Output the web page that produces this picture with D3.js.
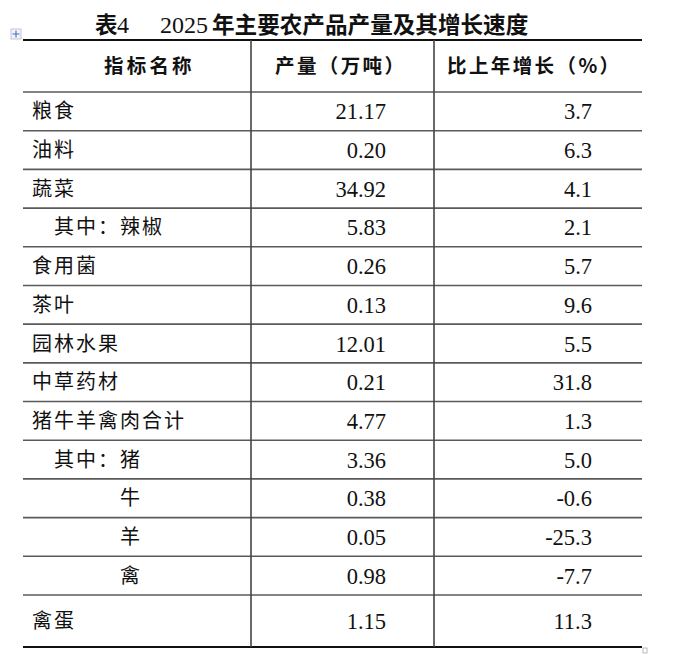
<!DOCTYPE html>
<html>
<head>
<meta charset="utf-8">
<script src="https://cdn.jsdelivr.net/npm/d3@7"></script>
<style>
  html, body { margin: 0; padding: 0; background: #fff; }
  svg { display: block; }
</style>
</head>
<body>
<svg id="chart" width="680" height="654"></svg>
<script>
// ---- data ----
const titlePrefix = "表";
const titleNumber = "4";
const titleYear = "2025";
const titleRest = "年主要农产品产量及其增长速度";
const headers = ["指标名称", "产量（万吨）", "比上年增长（%）"];
const items = ["粮食", "油料", "蔬菜", "辣椒", "食用菌", "茶叶", "园林水果", "中草药材",
               "猪牛羊禽肉合计", "猪", "牛", "羊", "禽", "禽蛋"];
const levels = [0, 0, 0, 1, 0, 0, 0, 0, 0, 1, 2, 2, 2, 0];
const output = ["21.17", "0.20", "34.92", "5.83", "0.26", "0.13", "12.01", "0.21",
                "4.77", "3.36", "0.38", "0.05", "0.98", "1.15"];
const growth = ["3.7", "6.3", "4.1", "2.1", "5.7", "9.6", "5.5", "31.8",
                "1.3", "5.0", "-0.6", "-25.3", "-7.7", "11.3"];

// ---- layout ----
const svg = d3.select("#chart");
const cjk = "'Noto Sans CJK SC', 'Noto Sans', sans-serif";
const serif = "'Liberation Serif', 'DejaVu Serif', serif";
const left = 23, right = 642;
const colX = d3.scaleOrdinal().domain([0, 1, 2, 3]).range([left, 251, 434, right]);

// row weights: header and last row taller
const weights = [1.345].concat(items.map((d, i) => i === items.length - 1 ? 1.345 : 1));
const cum = [0];
weights.forEach(w => cum.push(cum[cum.length - 1] + w));
const y = d3.scaleLinear().domain([0, cum[cum.length - 1]]).range([40, 647]);
const rowTop = i => y(cum[i + 1]);      // data row i
const rowMid = i => (y(cum[i + 1]) + y(cum[i + 2])) / 2;

// title
const title = svg.append("text").attr("y", 33).attr("fill", "#111");
title.append("tspan").attr("x", 95).attr("font-family", cjk).attr("font-weight", "bold")
  .attr("font-size", 22.5).text(titlePrefix);
title.append("tspan").attr("x", 117).attr("font-family", serif).attr("font-size", 24).text(titleNumber);
title.append("tspan").attr("x", 160).attr("font-family", serif).attr("font-size", 24).text(titleYear);
title.append("tspan").attr("x", 212).attr("font-family", cjk).attr("font-weight", "bold")
  .attr("font-size", 22.6).text(titleRest);

// table move handle icon
const h = svg.append("g").attr("transform", "translate(11,29)");
h.append("rect").attr("width", 10).attr("height", 10).attr("fill", "#f2f4fa").attr("stroke", "#b5b8c4").attr("stroke-width", 0.8);
h.append("path").attr("d", "M5 1.5V8.5M1.5 5H8.5").attr("stroke", "#3b6fd6").attr("stroke-width", 1.1);
// small end marker
svg.append("rect").attr("x", 643).attr("y", 648).attr("width", 4).attr("height", 5)
  .attr("fill", "none").attr("stroke", "#aaa").attr("stroke-width", 0.8);

// horizontal lines
const innerLines = d3.range(1, cum.length - 1).map(k => y(cum[k]));
svg.selectAll("line.h").data(innerLines).join("line")
  .attr("class", "h")
  .attr("x1", left).attr("x2", right)
  .attr("y1", d => d).attr("y2", d => d)
  .attr("stroke", "#5a5a5a").attr("stroke-width", 1.6);
svg.selectAll("line.edge").data([y(0), y(cum[cum.length - 1])]).join("line")
  .attr("class", "edge")
  .attr("x1", left).attr("x2", right)
  .attr("y1", d => d).attr("y2", d => d)
  .attr("stroke", "#111").attr("stroke-width", 2.2);

// vertical dividers
svg.selectAll("line.v").data([1, 2]).join("line")
  .attr("class", "v")
  .attr("x1", d => colX(d)).attr("x2", d => colX(d))
  .attr("y1", y(0)).attr("y2", y(cum[cum.length - 1]))
  .attr("stroke", "#444").attr("stroke-width", 1.6);

// headers
const headerX = [104, 275, 447];
const headerMid = (y(0) + y(cum[1])) / 2;
svg.selectAll("text.hd").data(headers).join("text")
  .attr("class", "hd")
  .attr("x", (d, i) => headerX[i])
  .attr("y", headerMid + 7)
  .attr("font-family", cjk).attr("font-size", 19.5).attr("font-weight", 600)
  .attr("letter-spacing", (d, i) => i === 0 ? 3.2 : 2.4)
  .attr("fill", "#111")
  .text(d => d);

// labels
const labelX = [32, 54, 120];
svg.selectAll("text.lbl").data(items).join("text")
  .attr("class", "lbl")
  .attr("x", (d, i) => labelX[levels[i]])
  .attr("y", (d, i) => rowMid(i) + 7)
  .attr("font-family", cjk).attr("font-size", 20)
  .attr("letter-spacing", 2)
  .attr("fill", "#111")
  .text((d, i) => levels[i] === 1 ? "其中：" + d : d);

// numbers
svg.selectAll("text.out").data(output).join("text")
  .attr("class", "out")
  .attr("x", 386)
  .attr("y", (d, i) => rowMid(i) + 8)
  .attr("text-anchor", "end")
  .attr("font-family", serif).attr("font-size", 22.5)
  .attr("fill", "#111")
  .text(d => d);
svg.selectAll("text.gr").data(growth).join("text")
  .attr("class", "gr")
  .attr("x", 592)
  .attr("y", (d, i) => rowMid(i) + 8)
  .attr("text-anchor", "end")
  .attr("font-family", serif).attr("font-size", 22.5)
  .attr("fill", "#111")
  .text(d => d);
</script>
</body>
</html>
